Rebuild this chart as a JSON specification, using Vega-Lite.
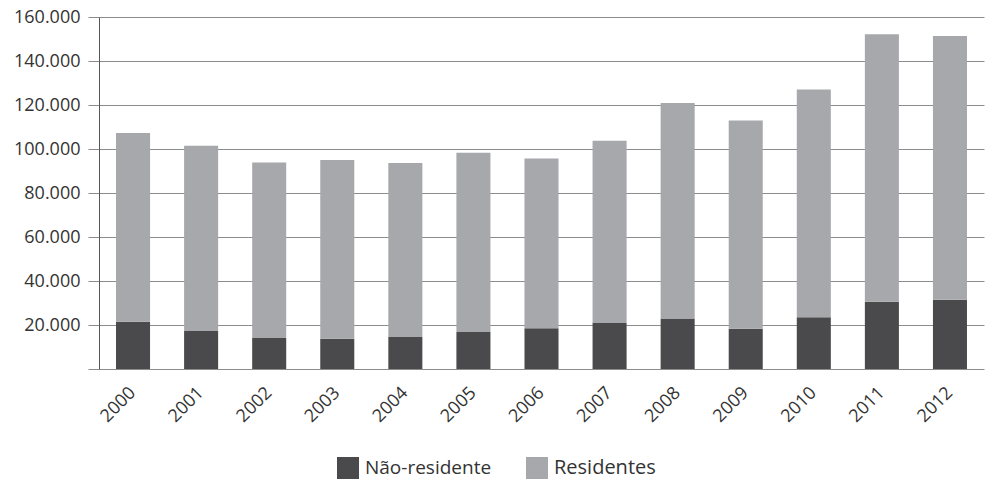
{
  "$schema": "https://vega.github.io/schema/vega-lite/v6.json",
  "autosize": "none",
  "padding": {"left": 99, "top": 17, "right": 1, "bottom": 117},
  "width": 885,
  "height": 352,
  "background": "white",
  "config": {
    "font": "Open Sans",
    "view": {"stroke": null}
  },
  "data": {
    "values": [
      {"ano": "2000", "tipo": "Não-residente", "valor": 21500},
      {"ano": "2000", "tipo": "Residentes", "valor": 85800},
      {"ano": "2001", "tipo": "Não-residente", "valor": 17300},
      {"ano": "2001", "tipo": "Residentes", "valor": 84200},
      {"ano": "2002", "tipo": "Não-residente", "valor": 14100},
      {"ano": "2002", "tipo": "Residentes", "valor": 79800},
      {"ano": "2003", "tipo": "Não-residente", "valor": 13800},
      {"ano": "2003", "tipo": "Residentes", "valor": 81200},
      {"ano": "2004", "tipo": "Não-residente", "valor": 14600},
      {"ano": "2004", "tipo": "Residentes", "valor": 79000},
      {"ano": "2005", "tipo": "Não-residente", "valor": 16800},
      {"ano": "2005", "tipo": "Residentes", "valor": 81500},
      {"ano": "2006", "tipo": "Não-residente", "valor": 18500},
      {"ano": "2006", "tipo": "Residentes", "valor": 77200},
      {"ano": "2007", "tipo": "Não-residente", "valor": 20900},
      {"ano": "2007", "tipo": "Residentes", "valor": 82900},
      {"ano": "2008", "tipo": "Não-residente", "valor": 22900},
      {"ano": "2008", "tipo": "Residentes", "valor": 98000},
      {"ano": "2009", "tipo": "Não-residente", "valor": 18300},
      {"ano": "2009", "tipo": "Residentes", "valor": 94700},
      {"ano": "2010", "tipo": "Não-residente", "valor": 23500},
      {"ano": "2010", "tipo": "Residentes", "valor": 103600},
      {"ano": "2011", "tipo": "Não-residente", "valor": 30600},
      {"ano": "2011", "tipo": "Residentes", "valor": 121600},
      {"ano": "2012", "tipo": "Não-residente", "valor": 31500},
      {"ano": "2012", "tipo": "Residentes", "valor": 119900}
    ]
  },
  "mark": {"type": "bar"},
  "encoding": {
    "x": {
      "field": "ano",
      "type": "ordinal",
      "title": null,
      "scale": {"paddingInner": 0.5, "paddingOuter": 0.25},
      "axis": {
        "labelAngle": -45,
        "labelAlign": "right",
        "labelBaseline": "middle",
        "labelFontSize": 18,
        "labelColor": "#333333",
        "labelPadding": 21,
        "ticks": false,
        "domain": false
      }
    },
    "y": {
      "field": "valor",
      "type": "quantitative",
      "aggregate": "sum",
      "stack": "zero",
      "title": null,
      "scale": {"domain": [0, 160000], "nice": false},
      "axis": {
        "values": [0, 20000, 40000, 60000, 80000, 100000, 120000, 140000, 160000],
        "labelExpr": "datum.value == 0 ? '' : replace(format(datum.value, ','), regexp(',', 'g'), '.')",
        "labelFontSize": 18,
        "labelColor": "#333333",
        "labelPadding": 8,
        "tickSize": 11,
        "tickColor": "#8c8c8c",
        "grid": true,
        "gridColor": "#8c8c8c",
        "gridWidth": 1,
        "domainColor": "#555555",
        "domainWidth": 1
      }
    },
    "color": {
      "field": "tipo",
      "type": "nominal",
      "title": null,
      "scale": {"domain": ["Não-residente", "Residentes"], "range": ["#4a4a4c", "#a7a8ab"]},
      "legend": {
        "orient": "none",
        "legendX": 238,
        "legendY": 440,
        "direction": "horizontal",
        "columns": 2,
        "columnPadding": 34,
        "symbolType": "square",
        "symbolSize": 484,
        "symbolStrokeWidth": 0,
        "labelOffset": 6,
        "labelFontSize": {"expr": "datum.label == 'Residentes' ? 20 : 19"},
        "labelColor": "#333333",
        "labelLimit": 300
      }
    },
    "order": {"field": "tipo", "sort": "ascending"}
  }
}
